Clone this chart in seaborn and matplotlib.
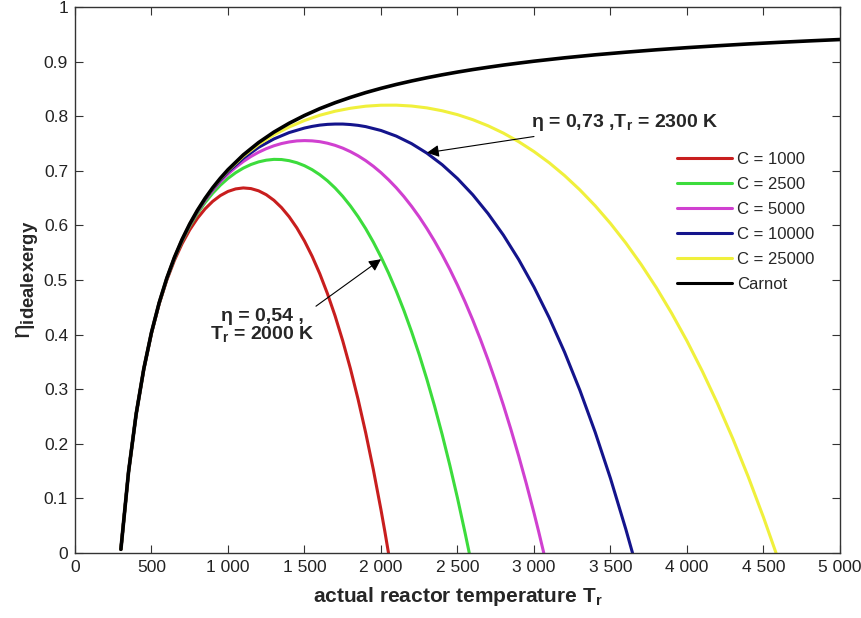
import pandas as pd
import matplotlib
matplotlib.use("Agg")
import matplotlib.pyplot as plt
import seaborn as sns

# Temperatures (K) and efficiencies
t_low = [300, 350, 400, 450, 500, 550, 600, 650, 700, 750, 800, 850, 900, 950, 1000]

# C = 1000
t_c1000 = t_low + [1050, 1100, 1150, 1200, 1250, 1300, 1350, 1400, 1450, 1500, 1550, 1600,
                   1650, 1700, 1750, 1800, 1850, 1900, 1950, 2000, 2025, 2049]
eta_c1000 = [0.0067, 0.1485, 0.2546, 0.3370, 0.4026, 0.4558, 0.4996, 0.5360, 0.5665, 0.5919,
             0.6129, 0.6302, 0.6440, 0.6546, 0.6622, 0.6668, 0.6686, 0.6674, 0.6633, 0.6562,
             0.6460, 0.6325, 0.6157, 0.5954, 0.5713, 0.5434, 0.5114, 0.4750, 0.4342, 0.3885,
             0.3378, 0.2818, 0.2202, 0.1527, 0.0790, 0.0397, 0.0]

# C = 2500
t_c2500 = t_low + [1050, 1100, 1150, 1200, 1250, 1300, 1350, 1400, 1450, 1500, 1550, 1600,
                   1650, 1700, 1750, 1800, 1850, 1900, 1950, 2000, 2050, 2100, 2150, 2200,
                   2250, 2300, 2350, 2400, 2450, 2500, 2550, 2577]
eta_c2500 = [0.0067, 0.1486, 0.2549, 0.3375, 0.4034, 0.4572, 0.5018, 0.5393, 0.5712, 0.5984,
             0.6217, 0.6417, 0.6589, 0.6736, 0.6861, 0.6965, 0.7049, 0.7115, 0.7163, 0.7194,
             0.7209, 0.7206, 0.7185, 0.7148, 0.7093, 0.7020, 0.6928, 0.6817, 0.6685, 0.6532,
             0.6357, 0.6160, 0.5940, 0.5694, 0.5422, 0.5123, 0.4796, 0.4440, 0.4052, 0.3633,
             0.3180, 0.2692, 0.2168, 0.1606, 0.1005, 0.0362, 0.0]

# C = 5000
t_c5000 = t_low + [1050, 1100, 1150, 1200, 1250, 1300, 1350, 1400, 1450, 1500, 1550, 1600,
                   1650, 1700, 1750, 1800, 1850, 1900, 1950, 2000, 2050, 2100, 2150, 2200,
                   2250, 2300, 2350, 2400, 2450, 2500, 2550, 2600, 2650, 2700, 2750, 2800,
                   2850, 2900, 2950, 3000, 3030, 3064]
eta_c5000 = [0.0067, 0.1486, 0.2549, 0.3376, 0.4037, 0.4577, 0.5026, 0.5404, 0.5727, 0.6005,
             0.6246, 0.6456, 0.6639, 0.6800, 0.6940, 0.7063, 0.7170, 0.7262, 0.7340, 0.7405,
             0.7458, 0.7499, 0.7528, 0.7547, 0.7553, 0.7548, 0.7533, 0.7505, 0.7466, 0.7415,
             0.7351, 0.7275, 0.7186, 0.7083, 0.6966, 0.6834, 0.6689, 0.6527, 0.6349, 0.6155,
             0.5942, 0.5712, 0.5463, 0.5195, 0.4906, 0.4597, 0.4266, 0.3912, 0.3535, 0.3134,
             0.2708, 0.2255, 0.1776, 0.1269, 0.0734, 0.0398, 0.0]

# C = 10000
t_c10000 = t_low + [1100, 1200, 1300, 1400, 1500, 1550, 1600, 1650, 1700, 1750, 1800, 1850,
                    1900, 2000, 2100, 2200, 2300, 2400, 2500, 2600, 2700, 2800, 2900, 3000,
                    3100, 3200, 3300, 3400, 3500, 3600, 3644]
eta_c10000 = [0.0067, 0.1486, 0.2550, 0.3377, 0.4039, 0.4580, 0.5029, 0.5410, 0.5735, 0.6016,
              0.6260, 0.6475, 0.6664, 0.6831, 0.6980, 0.7230, 0.7429, 0.7583, 0.7700, 0.7783,
              0.7813, 0.7836, 0.7850, 0.7856, 0.7856, 0.7847, 0.7832, 0.7809, 0.7738, 0.7635,
              0.7497, 0.7323, 0.7111, 0.6857, 0.6560, 0.6215, 0.5822, 0.5374, 0.4870, 0.4306,
              0.3677, 0.2980, 0.2211, 0.1365, 0.0437, 0.0]

# C = 25000
t_c25000 = t_low + [1100, 1200, 1300, 1400, 1500, 1600, 1700, 1800, 1900, 2000, 2100, 2200,
                    2300, 2400, 2500, 2600, 2700, 2800, 2900, 3000, 3100, 3200, 3300, 3400,
                    3500, 3600, 3700, 3800, 3900, 4000, 4100, 4200, 4300, 4400, 4500, 4582]
eta_c25000 = [0.0067, 0.1486, 0.2550, 0.3378, 0.4039, 0.4581, 0.5032, 0.5413, 0.5740, 0.6023,
              0.6269, 0.6486, 0.6679, 0.6850, 0.7004, 0.7267, 0.7482, 0.7658, 0.7802, 0.7921,
              0.8017, 0.8091, 0.8145, 0.8183, 0.8201, 0.8202, 0.8186, 0.8152, 0.8099, 0.8028,
              0.7936, 0.7824, 0.7690, 0.7533, 0.7352, 0.7146, 0.6912, 0.6650, 0.6359, 0.6035,
              0.5678, 0.5286, 0.4858, 0.4390, 0.3882, 0.3330, 0.2734, 0.2091, 0.1398, 0.0653, 0.0]

# Carnot
t_carnot = t_low + [1100, 1200, 1300, 1400, 1500, 1600, 1700, 1800, 1900, 2000, 2100, 2200,
                    2300, 2400, 2500, 2600, 2700, 2800, 2900, 3000, 3200, 3400, 3600, 3800,
                    4000, 4200, 4400, 4600, 4800, 5000]
eta_carnot = [0.0067, 0.1486, 0.2550, 0.3378, 0.4040, 0.4582, 0.5033, 0.5415, 0.5743, 0.6027,
              0.6275, 0.6494, 0.6689, 0.6863, 0.7020, 0.7291, 0.7517, 0.7708, 0.7871, 0.8013,
              0.8138, 0.8247, 0.8344, 0.8432, 0.8510, 0.8581, 0.8645, 0.8704, 0.8758, 0.8808,
              0.8854, 0.8896, 0.8936, 0.8972, 0.9007, 0.9069, 0.9124, 0.9172, 0.9216, 0.9255,
              0.9290, 0.9323, 0.9352, 0.9379, 0.9404]

series_names = ["C = 1000", "C = 2500", "C = 5000", "C = 10000", "C = 25000", "Carnot"]
series_t = [t_c1000, t_c2500, t_c5000, t_c10000, t_c25000, t_carnot]
series_eta = [eta_c1000, eta_c2500, eta_c5000, eta_c10000, eta_c25000, eta_carnot]
colors = ["#c81e1e", "#3cdc3c", "#d040d0", "#14148c", "#f0f03c", "#000000"]

x_ticks = [0, 500, 1000, 1500, 2000, 2500, 3000, 3500, 4000, 4500, 5000]
x_tick_labels = ["0", "500", "1 000", "1 500", "2 000", "2 500", "3 000", "3 500", "4 000", "4 500", "5 000"]
y_ticks = [0, 0.1, 0.2, 0.3, 0.4, 0.5, 0.6, 0.7, 0.8, 0.9, 1]
y_tick_labels = ["0", "0.1", "0.2", "0.3", "0.4", "0.5", "0.6", "0.7", "0.8", "0.9", "1"]

# long table for seaborn
frames = []
for name, t, eta in zip(series_names, series_t, series_eta):
    frames.append(pd.DataFrame({"T": t, "eta": eta, "series": name}))
df = pd.concat(frames, ignore_index=True)

sns.set_style("ticks")
plt.rcParams["font.family"] = ["Liberation Sans", "DejaVu Sans"]
plt.rcParams["mathtext.fontset"] = "custom"
plt.rcParams["mathtext.rm"] = "Liberation Sans"
plt.rcParams["mathtext.bf"] = "Liberation Sans:bold"
plt.rcParams["mathtext.it"] = "Liberation Sans:italic"

fig = plt.figure(figsize=(8.61, 6.18), dpi=100)
ax = fig.add_axes([0.0871, 0.1052, 0.8885, 0.8835])

sns.lineplot(data=df, x="T", y="eta", hue="series", hue_order=series_names,
             palette=colors, sort=False, estimator=None, units="series",
             linewidth=2.2, ax=ax)
for line in ax.get_lines():
    line.set_solid_joinstyle("round")
ax.get_lines()[5].set_linewidth(2.6)

ax.set_xlim(0, 5000)
ax.set_ylim(0, 1)
ax.set_xticks(x_ticks, x_tick_labels)
ax.set_yticks(y_ticks, y_tick_labels)
ax.tick_params(direction="in", top=True, right=True, labelsize=12.5, length=6,
               width=0.8, colors="#333333", labelcolor="#222222", pad=5)
for s in ax.spines.values():
    s.set_visible(True)
    s.set_linewidth(1.0)
    s.set_color("#333333")

ax.set_xlabel(r"actual reactor temperature T$_{\mathbf{r}}$", fontsize=15, fontweight="bold", labelpad=7)
ax.set_ylabel(r"$\mathrm{\eta}_{\mathbf{idealexergy}}$", fontsize=19, fontweight="bold", labelpad=2)

leg = ax.legend(loc="upper left", bbox_to_anchor=(0.767, 0.762), frameon=False,
                fontsize=12, handlelength=3.3, handletextpad=0.3, labelspacing=0.6)
leg.set_title(None)
for h in leg.get_lines():
    h.set_linewidth(2.2)

arrow_style = dict(arrowstyle="-|>", color="black", lw=0.8, mutation_scale=18,
                   shrinkA=0, shrinkB=0)
ax.annotate("η = 0,73 ,T$_{\\mathbf{r}}$ = 2300 K", xy=(2300, 0.733), xytext=(2980, 0.788),
            fontsize=14, fontweight="bold", ha="left", va="center", arrowprops=arrow_style)
ax.annotate("", xy=(2000, 0.538), xytext=(1575, 0.452), arrowprops=arrow_style)
ax.text(1225, 0.416, "η = 0,54 ,\nT$_{\\mathbf{r}}$ = 2000 K", fontsize=14,
        fontweight="bold", ha="center", va="center", linespacing=0.95)

plt.savefig("out.png", dpi=100)
plt.close()
